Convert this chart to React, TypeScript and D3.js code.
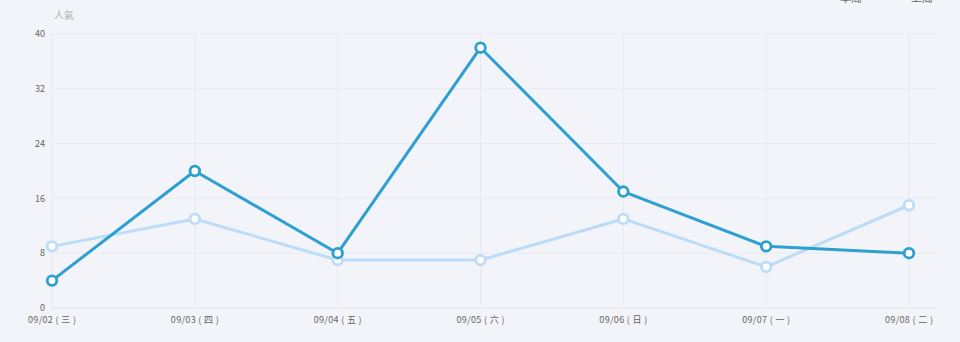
import React from "react";
import * as d3 from "d3";

const categories = ["09/02 ( 三 )", "09/03 ( 四 )", "09/04 ( 五 )", "09/05 ( 六 )", "09/06 ( 日 )", "09/07 ( 一 )", "09/08 ( 二 )"];
const thisWeek = [4, 20, 8, 38, 17, 9, 8];
const lastWeek = [9, 13, 7, 7, 13, 6, 15];
const yTicks = [0, 8, 16, 24, 32, 40];
const legendNames = ["本周", "上周"];
const yAxisName = "人氣";

const W = 960;
const H = 342;

export default function App() {
  const x = d3.scalePoint<string>().domain(categories).range([52, 909]);
  const y = d3.scaleLinear().domain([0, 40]).range([308, 34]);
  const line = d3
    .line<number>()
    .x((_, i) => x(categories[i]) as number)
    .y((d) => y(d));
  const gridRight = 936;

  const series = [
    { name: legendNames[1], data: lastWeek, color: "#bddcf8" },
    { name: legendNames[0], data: thisWeek, color: "#2e9fd1" },
  ];

  return (
    <svg
      width={W}
      height={H}
      style={{ position: "absolute", left: 0, top: 0, background: "#f2f4f9" }}
      fontFamily="'Noto Sans CJK SC', 'Noto Sans', sans-serif"
    >
      <rect width={W} height={H} fill="#f2f4f9" />
      {yTicks.map((t) => (
        <line key={"h" + t} x1={52} x2={gridRight} y1={y(t)} y2={y(t)} stroke={t === 0 ? "#dfe3ea" : "#e8ebf3"} strokeWidth={1} />
      ))}
      {categories.map((c) => (
        <line key={"v" + c} x1={x(c)} x2={x(c)} y1={y(40)} y2={y(0)} stroke="#e6e9f1" strokeWidth={1} />
      ))}
      {yTicks.map((t) => (
        <text key={"yl" + t} x={45} y={y(t)} dy="0.35em" textAnchor="end" fontSize={9} fill="#666">
          {t}
        </text>
      ))}
      <text x={54} y={19} fontSize={10} fill="#b0b0b0">
        {yAxisName}
      </text>
      {categories.map((c) => (
        <text key={"xl" + c} x={x(c)} y={323} textAnchor="middle" fontSize={9} fill="#666" textLength={48} lengthAdjust="spacing">
          {c}
        </text>
      ))}
      {/* legend (cut off at top edge, as in the reference) */}
      <text x={840} y={1.5} fontSize={11} fill="#666">
        {legendNames[0]}
      </text>
      <text x={911} y={1.5} fontSize={11} fill="#666">
        {legendNames[1]}
      </text>
      {series.map((s) => (
        <g key={s.name}>
          <path d={line(s.data) || ""} fill="none" stroke={s.color} strokeWidth={3} strokeLinejoin="round" />
          {s.data.map((v, i) => (
            <circle key={i} cx={x(categories[i])} cy={y(v)} r={4.8} fill="#fff" stroke={s.color} strokeWidth={2.8} />
          ))}
        </g>
      ))}
    </svg>
  );
}
